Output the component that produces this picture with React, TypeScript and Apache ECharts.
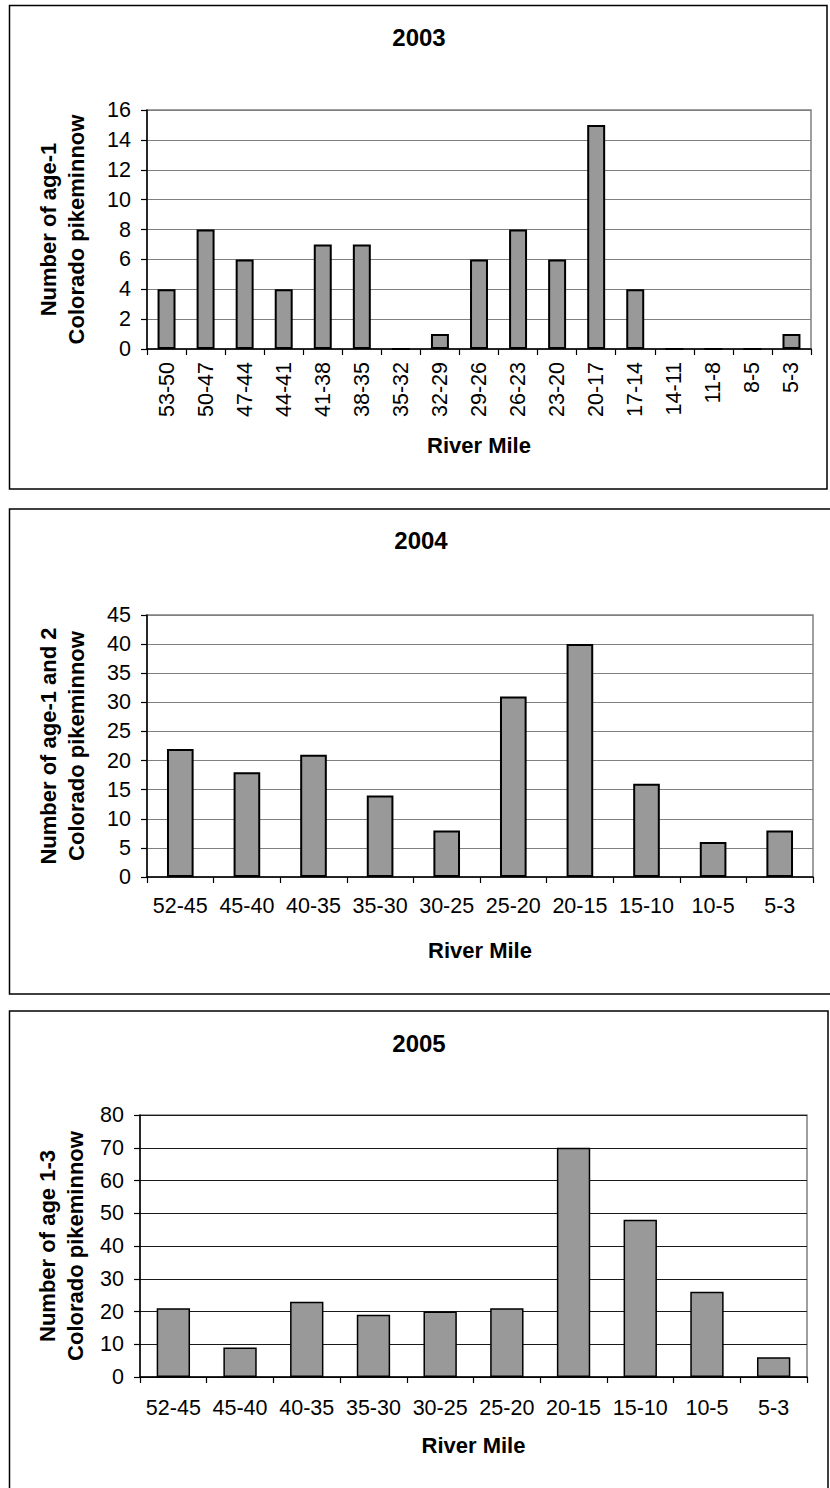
import React, { useEffect, useRef } from "react";
import * as echarts from "echarts";

// River-mile reaches and counts of Colorado pikeminnow per survey year
const reaches2003 = ["53-50", "50-47", "47-44", "44-41", "41-38", "38-35", "35-32", "32-29", "29-26", "26-23", "23-20", "20-17", "17-14", "14-11", "11-8", "8-5", "5-3"];
const counts2003 = [4, 8, 6, 4, 7, 7, 0, 1, 6, 8, 6, 15, 4, 0, 0, 0, 1];

const reaches2004 = ["52-45", "45-40", "40-35", "35-30", "30-25", "25-20", "20-15", "15-10", "10-5", "5-3"];
const counts2004 = [22, 18, 21, 14, 8, 31, 40, 16, 6, 8];

const reaches2005 = ["52-45", "45-40", "40-35", "35-30", "30-25", "25-20", "20-15", "15-10", "10-5", "5-3"];
const counts2005 = [21, 9, 23, 19, 20, 21, 70, 48, 26, 6];

const panelTitles = ["2003", "2004", "2005"];
const yTitles = [
  "Number of age-1\nColorado pikeminnow",
  "Number of age-1 and 2\nColorado pikeminnow",
  "Number of age 1-3\nColorado pikeminnow",
];
const xTitle = "River Mile";
const yMax = [16, 45, 80];
const yStep = [2, 5, 10];

const FONT = "'Liberation Sans', Arial, Helvetica, sans-serif";

export default function App() {
  const ref = useRef<HTMLDivElement>(null);

  useEffect(() => {
    if (!ref.current) return;
    const chart = echarts.init(ref.current, undefined, { renderer: "svg" });

    const grids = [
      { left: 147, top: 110, width: 664, height: 239 },
      { left: 147, top: 615, width: 666, height: 262 },
      { left: 140, top: 1115, width: 667, height: 262 },
    ];
    const gridLineColors = ["#808080", "#808080", "#1a1a1a"];
    const barWidths = ["46%", "40%", "50%"];
    const categories = [reaches2003, reaches2004, reaches2005];
    const values = [counts2003, counts2004, counts2005];
    const labelMargins = [13, 18, 20];
    const xNameGaps = [85, 62, 57];
    const yNameGaps = [57, 57, 50];

    const panels = [
      { x: 9.5, y: 5.5, w: 817.5, h: 483.5 },
      { x: 9.5, y: 509, w: 830, h: 485 },
      { x: 9.5, y: 1011, w: 818.5, h: 490 },
    ];
    const titlePos = [
      { x: 419, y: 37 },
      { x: 421, y: 540 },
      { x: 419, y: 1043 },
    ];

    chart.setOption({
      animation: false,
      backgroundColor: "#ffffff",
      grid: grids.map((g) => ({
        ...g,
        show: true,
        borderColor: "#808080",
        borderWidth: 1.5,
        backgroundColor: "transparent",
      })),
      xAxis: categories.map((cats, i) => ({
        type: "category",
        gridIndex: i,
        data: cats,
        boundaryGap: true,
        name: xTitle,
        nameLocation: "middle",
        nameGap: xNameGaps[i],
        nameTextStyle: { fontFamily: FONT, fontSize: 22, fontWeight: "bold", color: "#000" },
        axisLine: { show: true, lineStyle: { color: "#000", width: 1.5 } },
        axisTick: { show: true, length: 6, lineStyle: { color: "#000", width: 1.2 }, interval: 0 },
        axisLabel: {
          interval: 0,
          rotate: i === 0 ? 90 : 0,
          margin: labelMargins[i],
          fontFamily: FONT,
          fontSize: 21.5,
          color: "#000",
        },
        splitLine: { show: false },
      })),
      yAxis: yMax.map((mx, i) => ({
        type: "value",
        gridIndex: i,
        min: 0,
        max: mx,
        interval: yStep[i],
        name: yTitles[i],
        nameLocation: "middle",
        nameRotate: 90,
        nameGap: yNameGaps[i],
        nameTextStyle: {
          fontFamily: FONT,
          fontSize: 22,
          fontWeight: "bold",
          color: "#000",
          lineHeight: 28,
          align: "center",
        },
        axisLine: { show: true, lineStyle: { color: "#000", width: 1.5 } },
        axisTick: { show: true, length: 6, lineStyle: { color: "#000", width: 1.2 } },
        axisLabel: { margin: 16, fontFamily: FONT, fontSize: 21.5, color: "#000" },
        splitLine: { show: true, lineStyle: { color: gridLineColors[i], width: 1.2 } },
      })),
      series: values.map((vals, i) => ({
        type: "bar",
        xAxisIndex: i,
        yAxisIndex: i,
        data: vals,
        barWidth: barWidths[i],
        itemStyle: { color: "#999999", borderColor: "#000", borderWidth: i === 2 ? 1.5 : 2 },
      })),
      graphic: [
        ...panels.map((p) => ({
          type: "rect",
          shape: { x: p.x, y: p.y, width: p.w, height: p.h },
          style: { fill: "none", stroke: "#000", lineWidth: 1.5 },
          silent: true,
        })),
        ...panelTitles.map((t, i) => ({
          type: "text",
          x: titlePos[i].x,
          y: titlePos[i].y,
          style: {
            text: t,
            fontFamily: FONT,
            fontSize: 24,
            fontWeight: "bold",
            fill: "#000",
            align: "center",
            verticalAlign: "middle",
          },
          silent: true,
        })),
      ],
    });

    return () => chart.dispose();
  }, []);

  return (
    <div
      ref={ref}
      style={{ position: "absolute", left: 0, top: 0, width: 830, height: 1488, background: "#fff" }}
    />
  );
}
